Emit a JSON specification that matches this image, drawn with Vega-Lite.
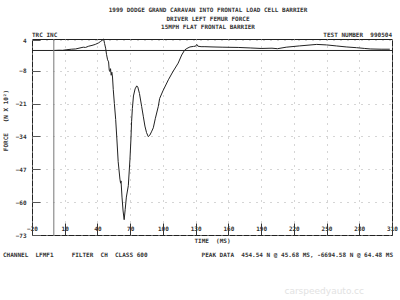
{
  "$schema": "https://vega.github.io/schema/vega-lite/v6.json",
  "autosize": "none",
  "width": 360,
  "height": 196,
  "padding": {"left": 32, "top": 39, "right": 8, "bottom": 65},
  "background": "white",
  "config": {
    "view": {"stroke": "#222", "strokeWidth": 1},
    "font": "DejaVu Sans Mono",
    "text": {"font": "DejaVu Sans Mono", "fontSize": 6, "fontWeight": "bold", "color": "#333"}
  },
  "title": {
    "text": ["1999 DODGE GRAND CARAVAN INTO FRONTAL LOAD CELL BARRIER", "DRIVER LEFT FEMUR FORCE", "15MPH FLAT FRONTAL BARRIER"],
    "font": "DejaVu Sans Mono",
    "fontSize": 6,
    "fontWeight": "bold",
    "color": "#333",
    "lineHeight": 8.5,
    "offset": 2,
    "anchor": "middle",
    "dx": -4
  },
  "resolve": {"axis": {"x": "independent", "y": "independent"}},
  "datasets": {
    "trace": [
      {"t": 0, "f": 0}, {"t": 5, "f": 0.1}, {"t": 8, "f": 0.05}, {"t": 12, "f": 0.3}, {"t": 16, "f": 0.5},
      {"t": 20, "f": 0.6}, {"t": 24, "f": 1.0}, {"t": 27, "f": 1.3}, {"t": 29, "f": 1.2}, {"t": 32, "f": 1.7},
      {"t": 35, "f": 2.0}, {"t": 38, "f": 2.4}, {"t": 41, "f": 3.0}, {"t": 43, "f": 3.6}, {"t": 45.68, "f": 4.54},
      {"t": 46.5, "f": 2.8}, {"t": 47.5, "f": 0.9}, {"t": 48.3, "f": -1.5}, {"t": 49.3, "f": -3.7}, {"t": 50.2, "f": -4.5},
      {"t": 50.8, "f": -7.8}, {"t": 51.4, "f": -8.3}, {"t": 52, "f": -7.2}, {"t": 52.6, "f": -9.8}, {"t": 53.2, "f": -8.6},
      {"t": 53.8, "f": -10.5}, {"t": 54.5, "f": -15.5}, {"t": 55.5, "f": -21}, {"t": 56.7, "f": -27.3}, {"t": 57.8, "f": -35},
      {"t": 59, "f": -44}, {"t": 60.6, "f": -50.9}, {"t": 61.2, "f": -52.5}, {"t": 61.6, "f": -51.6}, {"t": 62.5, "f": -58},
      {"t": 63.5, "f": -63.5}, {"t": 64.48, "f": -66.95}, {"t": 65.4, "f": -63}, {"t": 66.5, "f": -58}, {"t": 68.3, "f": -53.5},
      {"t": 69.8, "f": -43}, {"t": 70.7, "f": -35}, {"t": 71.3, "f": -28}, {"t": 72, "f": -23}, {"t": 73, "f": -18},
      {"t": 74.5, "f": -15.2}, {"t": 76, "f": -14.0}, {"t": 77, "f": -14.5}, {"t": 78.5, "f": -17}, {"t": 80.5, "f": -22.1},
      {"t": 82, "f": -26}, {"t": 83.5, "f": -29.9}, {"t": 85, "f": -32.5}, {"t": 86.6, "f": -34.1}, {"t": 88, "f": -33.5},
      {"t": 89.5, "f": -32.2}, {"t": 91.2, "f": -30.6}, {"t": 93, "f": -27}, {"t": 95.8, "f": -22.1}, {"t": 97, "f": -19},
      {"t": 100, "f": -16}, {"t": 105, "f": -11.6}, {"t": 109, "f": -8.5}, {"t": 114, "f": -5.0}, {"t": 117.2, "f": -1.8},
      {"t": 120, "f": 0.2}, {"t": 122, "f": 0.8}, {"t": 124.8, "f": 1.4}, {"t": 128, "f": 1.6}, {"t": 130, "f": 1.7},
      {"t": 131, "f": 2.4}, {"t": 132, "f": 1.7}, {"t": 135, "f": 1.5}, {"t": 138.5, "f": 1.5}, {"t": 145, "f": 1.4},
      {"t": 155, "f": 1.3}, {"t": 169, "f": 1.2}, {"t": 180, "f": 1.0}, {"t": 190, "f": 0.8}, {"t": 200, "f": 0.9},
      {"t": 205, "f": 0.7}, {"t": 213, "f": 1.3}, {"t": 225, "f": 1.8}, {"t": 241, "f": 2.4}, {"t": 250, "f": 2.2},
      {"t": 259, "f": 1.8}, {"t": 268, "f": 1.4}, {"t": 277.6, "f": 1.1}, {"t": 285, "f": 0.8}, {"t": 290, "f": 0.6},
      {"t": 300, "f": 0.5}, {"t": 308, "f": 0.5}
    ],
    "one": [{"k": 1}]
  },
  "layer": [
    {
      "data": {"name": "trace"},
      "mark": {"type": "line", "color": "#222", "strokeWidth": 1, "interpolate": "linear"},
      "encoding": {
        "x": {
          "field": "t", "type": "quantitative",
          "scale": {"domain": [-20, 310], "nice": false, "zero": false},
          "axis": {
            "values": [-20, 10, 40, 70, 100, 130, 160, 190, 220, 250, 280, 310],
            "title": "TIME\u00a0\u00a0(MS)",
            "titleFont": "DejaVu Sans Mono", "titleFontSize": 6, "titleFontWeight": "bold", "titleColor": "#333",
            "titlePadding": 2,
            "labelFont": "DejaVu Sans Mono", "labelFontSize": 6, "labelFontWeight": "bold", "labelColor": "#333",
            "labelPadding": 2,
            "labelFlush": false, "labelOverlap": false,
            "domain": false,
            "ticks": true, "tickSize": -12, "tickColor": "#333", "tickWidth": 1,
            "grid": true, "gridColor": "#aaa", "gridDash": [1, 6], "gridWidth": 1
          }
        },
        "y": {
          "field": "f", "type": "quantitative",
          "scale": {"domain": [-73, 4.54], "nice": false, "zero": false},
          "axis": {
            "values": [-73, -60, -47, -34, -21, -8, 4],
            "format": "d",
            "title": "FORCE\u00a0\u00a0\u00a0(N X 10²)",
            "titleFont": "DejaVu Sans Mono", "titleFontSize": 6, "titleFontWeight": "bold", "titleColor": "#333",
            "titleX": -24, "titleY": 81,
            "labelFont": "DejaVu Sans Mono", "labelFontSize": 6, "labelFontWeight": "bold", "labelColor": "#333",
            "labelPadding": 14,
            "labelFlush": false, "labelOverlap": false,
            "domain": false,
            "ticks": true, "tickSize": -8, "tickColor": "#555", "tickWidth": 1,
            "grid": true, "gridColor": "#aaa", "gridDash": [1, 6], "gridWidth": 1
          }
        }
      }
    },
    {
      "data": {"name": "one"},
      "mark": {"type": "rule", "color": "#222", "strokeWidth": 1},
      "encoding": {"y": {"datum": 0, "axis": null}}
    },
    {
      "data": {"name": "one"},
      "mark": {"type": "rule", "color": "#777", "strokeWidth": 1},
      "encoding": {"x": {"datum": 0, "axis": null}}
    },
    {
      "data": {"name": "one"},
      "mark": {"type": "text", "align": "left", "baseline": "bottom", "dy": -1},
      "encoding": {"x": {"datum": -20, "axis": null}, "y": {"datum": 4.54, "axis": null}, "text": {"value": "TRC INC"}}
    },
    {
      "data": {"name": "one"},
      "mark": {"type": "text", "align": "right", "baseline": "bottom", "dy": -1},
      "encoding": {"x": {"datum": 310, "axis": null}, "y": {"datum": 4.54, "axis": null}, "text": {"value": "TEST NUMBER\u00a0\u00a0990504"}}
    },
    {
      "data": {"name": "one"},
      "mark": {"type": "text", "align": "left", "baseline": "middle", "dx": -29, "dy": 20},
      "encoding": {"x": {"datum": -20, "axis": null}, "y": {"datum": -73, "axis": null}, "text": {"value": "CHANNEL\u00a0\u00a0LFMF1\u00a0\u00a0\u00a0\u00a0\u00a0FILTER\u00a0\u00a0CH\u00a0\u00a0CLASS 600"}}
    },
    {
      "data": {"name": "one"},
      "mark": {"type": "text", "align": "right", "baseline": "middle", "dx": 1, "dy": 20},
      "encoding": {"x": {"datum": 310, "axis": null}, "y": {"datum": -73, "axis": null}, "text": {"value": "PEAK DATA\u00a0\u00a0454.54 N @ 45.68 MS, -6694.58 N @ 64.48 MS"}}
    },
    {
      "data": {"name": "one"},
      "mark": {"type": "text", "align": "right", "baseline": "middle", "dx": -28, "dy": 56, "font": "DejaVu Sans", "fontSize": 9, "fontWeight": "normal", "color": "#e2e2e2"},
      "encoding": {"x": {"datum": 310, "axis": null}, "y": {"datum": -73, "axis": null}, "text": {"value": "carspeedyauto.cc"}}
    }
  ]
}
